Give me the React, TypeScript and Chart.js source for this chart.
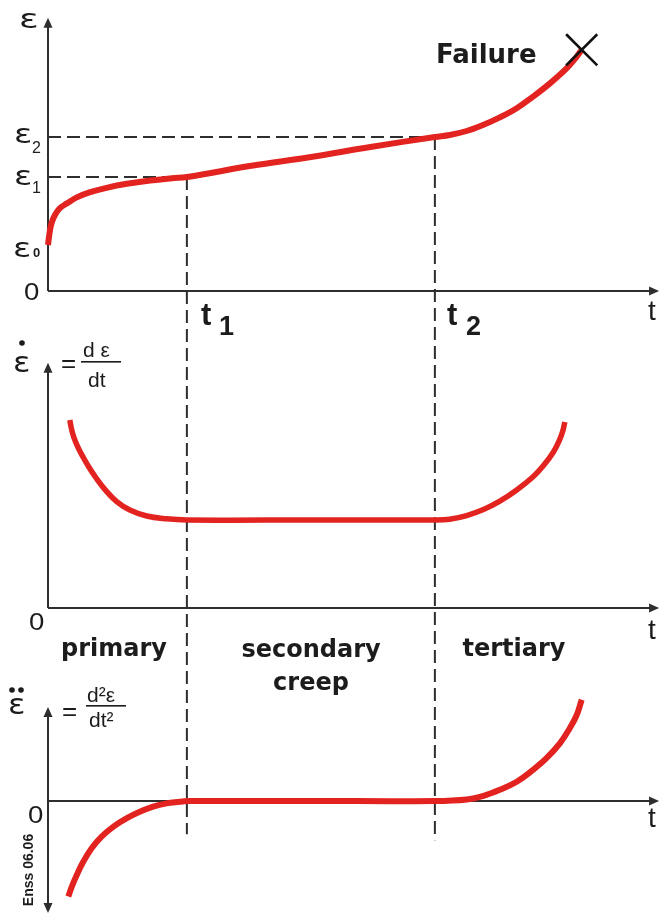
import React, { useEffect, useRef } from 'react';
import { Chart, registerables } from 'chart.js';

Chart.register(...registerables);

const W = 661;
const H = 923;

// ---- time axis (arbitrary time units) ----
const T_ONE = 2.8;
const T_TWO = 7.8;
const T_AXIS_END = 12.32;

// ---- strain levels (panel 1) ----
const E_ZERO = 1.15;
const E_ONE = 2.85;
const E_TWO = 3.85;

// ---- panel 1: strain vs time ----
const strainT = [0, 0.03, 0.07, 0.14, 0.24, 0.38, 0.58, 0.85, 1.18, 1.59, 2.06, 2.5, 2.8, 4.1, 5.3, 6.5, 7.8, 8.1, 8.44, 8.77, 9.11, 9.45, 9.78, 10.12, 10.46, 10.66, 10.76];
const strainV = [1.15, 1.44, 1.69, 1.9, 2.07, 2.19, 2.34, 2.47, 2.58, 2.68, 2.76, 2.82, 2.85, 3.13, 3.35, 3.6, 3.85, 3.9, 4.0, 4.15, 4.34, 4.57, 4.86, 5.19, 5.57, 5.86, 6.03];

// ---- panel 2: strain rate vs time ----
const rateT = [0.44, 0.47, 0.52, 0.6, 0.7, 0.82, 0.97, 1.15, 1.385, 1.65, 1.99, 2.39, 2.8, 5.3, 7.8, 8.1, 8.44, 8.78, 9.11, 9.45, 9.78, 9.99, 10.19, 10.32, 10.38, 10.42];
const rateV = [4.7, 4.5, 4.27, 4.03, 3.79, 3.53, 3.25, 2.96, 2.66, 2.45, 2.3, 2.23, 2.2, 2.2, 2.2, 2.22, 2.31, 2.46, 2.67, 2.95, 3.28, 3.56, 3.9, 4.22, 4.43, 4.65];

// ---- panel 3: strain acceleration vs time ----
const accelT = [0.41, 0.48, 0.58, 0.71, 0.88, 1.08, 1.32, 1.59, 1.85, 2.12, 2.39, 2.66, 2.8, 5.3, 7.8, 8.44, 8.78, 9.11, 9.45, 9.78, 10.05, 10.32, 10.52, 10.66, 10.76];
const accelV = [-2.39, -2.14, -1.85, -1.52, -1.18, -0.89, -0.64, -0.43, -0.27, -0.14, -0.06, -0.02, 0, 0, 0, 0.04, 0.13, 0.28, 0.48, 0.78, 1.07, 1.44, 1.82, 2.15, 2.53];

// ---- axis extents ----
const Y1_TOP = 6.83;
const Y2_TOP = 6.13;
const Y3_TOP = 2.35;
const Y3_BOTTOM = -2.8;
const T1_DASH_END = -0.83; // on panel-3 scale
const T2_DASH_END = -0.98;

// ---- layout (pixel anchors of the scales) ----
const X_ZERO_PX = 48;
const X_PX_PER_UNIT = 49.6;
const PANEL_ZERO_PX = [291, 608, 801];
const Y_PX_PER_UNIT = 40;

const xRange = { min: -X_ZERO_PX / X_PX_PER_UNIT, max: (W - X_ZERO_PX) / X_PX_PER_UNIT };
const yRange = (zeroPx: number) => ({ min: -(H - zeroPx) / Y_PX_PER_UNIT, max: zeroPx / Y_PX_PER_UNIT });

const RED = '#e2231f';
const INK = '#1c1c1c';
const AXIS = '#2e2e2e';

const pts = (xs: number[], ys: number[]) => xs.map((x, i) => ({ x, y: ys[i] }));

function txt(ctx: CanvasRenderingContext2D, s: string, x: number, y: number, font: string, align: CanvasTextAlign = 'left', sx = 1) {
  ctx.save();
  ctx.font = font;
  ctx.textAlign = align;
  ctx.textBaseline = 'alphabetic';
  ctx.fillStyle = INK;
  ctx.translate(x, y);
  ctx.scale(sx, 1);
  ctx.fillText(s, 0, 0);
  ctx.restore();
}

function arrowHead(ctx: CanvasRenderingContext2D, x: number, y: number, dir: 'up' | 'down' | 'right') {
  const L = 10, hw = 4.5;
  ctx.beginPath();
  if (dir === 'up') { ctx.moveTo(x, y); ctx.lineTo(x - hw, y + L); ctx.lineTo(x + hw, y + L); }
  if (dir === 'down') { ctx.moveTo(x, y); ctx.lineTo(x - hw, y - L); ctx.lineTo(x + hw, y - L); }
  if (dir === 'right') { ctx.moveTo(x, y); ctx.lineTo(x - L, y - hw); ctx.lineTo(x - L, y + hw); }
  ctx.closePath();
  ctx.fill();
}

function line(ctx: CanvasRenderingContext2D, x1: number, y1: number, x2: number, y2: number) {
  ctx.beginPath();
  ctx.moveTo(x1, y1);
  ctx.lineTo(x2, y2);
  ctx.stroke();
}

const overlay = {
  id: 'overlay',
  beforeDraw(chart: any) {
    const ctx = chart.ctx as CanvasRenderingContext2D;
    ctx.save();
    ctx.fillStyle = '#ffffff';
    ctx.fillRect(0, 0, chart.width, chart.height);
    ctx.restore();
  },
  beforeDatasetsDraw(chart: any) {
    const ctx = chart.ctx as CanvasRenderingContext2D;
    const sx = chart.scales.x, y1 = chart.scales.y1, y2 = chart.scales.y2, y3 = chart.scales.y3;
    const x0 = sx.getPixelForValue(0);
    const xEnd = sx.getPixelForValue(T_AXIS_END);
    ctx.save();
    ctx.strokeStyle = AXIS;
    ctx.fillStyle = AXIS;
    ctx.lineWidth = 2;
    // panel 1 axes
    const p1 = y1.getPixelForValue(0);
    line(ctx, x0, p1, xEnd - 4, p1);
    arrowHead(ctx, xEnd, p1, 'right');
    line(ctx, x0, p1, x0, y1.getPixelForValue(Y1_TOP) + 4);
    arrowHead(ctx, x0, y1.getPixelForValue(Y1_TOP), 'up');
    // panel 2 axes
    const p2 = y2.getPixelForValue(0);
    line(ctx, x0, p2, xEnd - 4, p2);
    arrowHead(ctx, xEnd, p2, 'right');
    line(ctx, x0, p2, x0, y2.getPixelForValue(Y2_TOP) + 4);
    arrowHead(ctx, x0, y2.getPixelForValue(Y2_TOP), 'up');
    // panel 3 axes
    const p3 = y3.getPixelForValue(0);
    line(ctx, x0, p3, xEnd - 4, p3);
    arrowHead(ctx, xEnd, p3, 'right');
    line(ctx, x0, y3.getPixelForValue(Y3_BOTTOM) - 4, x0, y3.getPixelForValue(Y3_TOP) + 4);
    arrowHead(ctx, x0, y3.getPixelForValue(Y3_TOP), 'up');
    arrowHead(ctx, x0, y3.getPixelForValue(Y3_BOTTOM), 'down');
    // vertical dashed lines at t1 and t2
    ctx.setLineDash([13, 6]);
    const xt1 = sx.getPixelForValue(T_ONE);
    const xt2 = sx.getPixelForValue(T_TWO);
    line(ctx, xt1, y1.getPixelForValue(E_ONE), xt1, y3.getPixelForValue(T1_DASH_END));
    line(ctx, xt2, y1.getPixelForValue(E_TWO), xt2, y3.getPixelForValue(T2_DASH_END));
    ctx.restore();
  },
  afterDatasetsDraw(chart: any) {
    const ctx = chart.ctx as CanvasRenderingContext2D;
    const sx = chart.scales.x, y1 = chart.scales.y1, y2 = chart.scales.y2, y3 = chart.scales.y3;
    const EPS = '"DejaVu Sans", sans-serif';
    const SANS = '"Liberation Sans", Arial, sans-serif';
    const BOLD = 'bold 24px "DejaVu Sans", sans-serif';
    ctx.save();
    ctx.fillStyle = INK;

    // ---- panel 1 ----
    txt(ctx, 'ε', 19, 28, `27px ${EPS}`, 'left', 1.35);
    const pe2 = y1.getPixelForValue(E_TWO);
    txt(ctx, 'ε', 14, pe2 + 6, `27px ${EPS}`, 'left', 1.25);
    txt(ctx, '2', 32, pe2 + 16, `16px ${SANS}`);
    const pe1 = y1.getPixelForValue(E_ONE);
    txt(ctx, 'ε', 14, pe1 + 8, `27px ${EPS}`, 'left', 1.25);
    txt(ctx, '1', 32, pe1 + 16, `16px ${SANS}`);
    const pe0 = y1.getPixelForValue(E_ZERO);
    txt(ctx, 'ε', 13, pe0 + 12, `27px ${EPS}`, 'left', 1.25);
    txt(ctx, '0', 33, pe0 + 12, `bold 13px ${SANS}`);
    const p1 = y1.getPixelForValue(0);
    txt(ctx, '0', 24, p1 + 9, `24px ${SANS}`, 'left', 1.15);
    txt(ctx, 't', 648, p1 + 29, `28px ${SANS}`);
    const xt1 = sx.getPixelForValue(T_ONE);
    const xt2 = sx.getPixelForValue(T_TWO);
    txt(ctx, 't', xt1 + 14, p1 + 34, `bold 31px ${SANS}`);
    txt(ctx, '1', xt1 + 32, p1 + 44, `bold 27px ${SANS}`);
    txt(ctx, 't', xt2 + 12, p1 + 34, `bold 31px ${SANS}`);
    txt(ctx, '2', xt2 + 31, p1 + 44, `bold 27px ${SANS}`);
    txt(ctx, 'Failure', 436, 63, `bold 26px ${EPS}`);

    // ---- panel 2 ----
    ctx.beginPath(); ctx.arc(22, 343, 2.8, 0, Math.PI * 2); ctx.fill();
    txt(ctx, 'ε', 13, 372, `28px ${EPS}`, 'left', 1.15);
    txt(ctx, '=', 61, 372, `26px ${SANS}`);
    txt(ctx, 'd ε', 83, 357, `21px ${SANS}`);
    ctx.fillRect(81, 361, 40, 1.6);
    txt(ctx, 'dt', 88, 387, `21px ${SANS}`);
    const p2 = y2.getPixelForValue(0);
    txt(ctx, '0', 29, p2 + 22, `24px ${SANS}`, 'left', 1.15);
    txt(ctx, 't', 648, p2 + 31, `28px ${SANS}`);

    // ---- stage labels ----
    txt(ctx, 'primary', 114, 656, BOLD, 'center');
    txt(ctx, 'secondary', 311, 657, BOLD, 'center');
    txt(ctx, 'creep', 311, 690, BOLD, 'center');
    txt(ctx, 'tertiary', 514, 656, BOLD, 'center');

    // ---- panel 3 ----
    ctx.beginPath(); ctx.arc(12, 690, 2.8, 0, Math.PI * 2); ctx.fill();
    ctx.beginPath(); ctx.arc(21, 690, 2.8, 0, Math.PI * 2); ctx.fill();
    txt(ctx, 'ε', 8, 714, `28px ${EPS}`, 'left', 1.15);
    txt(ctx, '=', 62, 720, `26px ${SANS}`);
    txt(ctx, 'd²ε', 87, 702, `21px ${SANS}`);
    ctx.fillRect(86, 705, 40, 1.6);
    txt(ctx, 'dt²', 89, 727, `21px ${SANS}`);
    const p3 = y3.getPixelForValue(0);
    txt(ctx, '0', 28, p3 + 22, `24px ${SANS}`, 'left', 1.15);
    txt(ctx, 't', 648, p3 + 26, `28px ${SANS}`);

    // watermark, rotated
    ctx.save();
    ctx.translate(33, 870);
    ctx.rotate(-Math.PI / 2);
    ctx.font = `bold 14px ${SANS}`;
    ctx.textAlign = 'center';
    ctx.textBaseline = 'alphabetic';
    ctx.fillText('Enss 06.06', 0, 0);
    ctx.restore();

    ctx.restore();
  },
};

export default function App() {
  const ref = useRef<HTMLCanvasElement | null>(null);
  useEffect(() => {
    if (!ref.current) return;
    const last = strainT.length - 1;
    const curve = (data: any, yAxisID: string, width: number) => ({
      data,
      yAxisID,
      borderColor: RED,
      borderWidth: width,
      pointRadius: 0,
      tension: 0.4,
      fill: false,
      order: 0,
    });
    const dashed = (level: number, tEnd: number) => ({
      data: [{ x: 0, y: level }, { x: tEnd, y: level }],
      yAxisID: 'y1',
      borderColor: AXIS,
      borderWidth: 2,
      borderDash: [13, 6],
      pointRadius: 0,
      fill: false,
      order: 2,
    });
    const chart = new Chart(ref.current, {
      type: 'line',
      data: {
        datasets: [
          curve(pts(strainT, strainV), 'y1', 6),
          curve(pts(rateT, rateV), 'y2', 5.5),
          curve(pts(accelT, accelV), 'y3', 6),
          dashed(E_ONE, T_ONE),
          dashed(E_TWO, T_TWO),
          {
            data: [{ x: strainT[last], y: strainV[last] }],
            yAxisID: 'y1',
            showLine: false,
            pointStyle: 'crossRot',
            pointRadius: 22,
            pointBorderWidth: 2.6,
            pointBorderColor: '#111111',
            pointBackgroundColor: '#111111',
            order: -1,
          } as any,
        ],
      },
      options: {
        responsive: false,
        animation: false,
        events: [],
        layout: { padding: 0, autoPadding: false },
        plugins: { legend: { display: false }, tooltip: { enabled: false } },
        scales: {
          x: { type: 'linear', display: false, ...xRange },
          y1: { type: 'linear', display: false, ...yRange(PANEL_ZERO_PX[0]) },
          y2: { type: 'linear', display: false, ...yRange(PANEL_ZERO_PX[1]) },
          y3: { type: 'linear', display: false, ...yRange(PANEL_ZERO_PX[2]) },
        },
      },
      plugins: [overlay],
    });
    return () => chart.destroy();
  }, []);
  return (
    <div style={{ position: 'absolute', left: 0, top: 0, width: W, height: H, background: '#fff' }}>
      <canvas ref={ref} width={W} height={H} style={{ display: 'block' }} />
    </div>
  );
}
